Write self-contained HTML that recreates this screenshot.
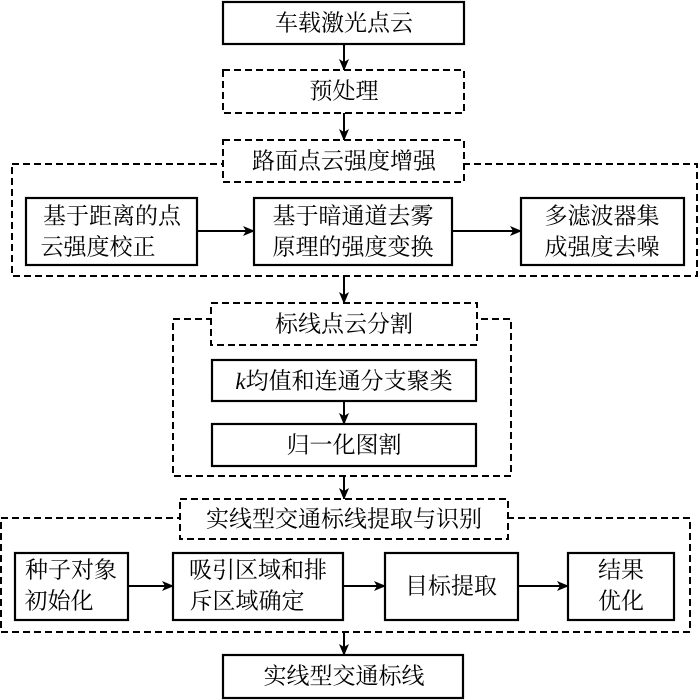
<!DOCTYPE html>
<html><head><meta charset="utf-8"><style>
html,body{margin:0;padding:0;background:#fff;}
svg{display:block}
text{font-family:"Liberation Serif","Noto Serif CJK SC",serif;font-size:23px;fill:#000;text-anchor:middle;dominant-baseline:central}
.s{fill:#fff;stroke:#000;stroke-width:2.2}
.d{fill:none;stroke:#000;stroke-width:2;stroke-dasharray:7 4}
.dw{fill:#fff;stroke:#000;stroke-width:2;stroke-dasharray:7 4}
.l{stroke:#000;stroke-width:2;fill:none}
</style></head><body>
<svg width="700" height="700" viewBox="0 0 700 700" xmlns="http://www.w3.org/2000/svg">
<defs><marker id="a" markerWidth="12" markerHeight="10" refX="11" refY="5" orient="auto" markerUnits="userSpaceOnUse"><path d="M0,0 L12,5 L0,10 L3,5 Z" fill="#000"/></marker></defs>

<!-- outer groups -->
<rect class="d" x="12" y="164" width="685" height="112"/>
<rect class="d" x="173" y="319" width="338" height="157"/>
<rect class="d" x="1" y="518" width="689" height="114"/>

<!-- top -->
<rect class="s" x="223" y="2" width="241" height="42"/>
<text x="344" y="23">车载激光点云</text>
<line class="l" x1="344" y1="44" x2="344" y2="70" marker-end="url(#a)"/>
<rect class="dw" x="223" y="70" width="241" height="43"/>
<text x="344" y="91">预处理</text>
<line class="l" x1="344" y1="113" x2="344" y2="140" marker-end="url(#a)"/>
<rect class="dw" x="223" y="140" width="241" height="42"/>
<text x="344" y="161">路面点云强度增强</text>

<rect class="s" x="26" y="198" width="171" height="67"/>
<text x="112" y="216">基于距离的点</text>
<text x="98" y="247">云强度校正</text>
<rect class="s" x="254" y="198" width="198" height="67"/>
<text x="353" y="216">基于暗通道去雾</text>
<text x="353" y="247">原理的强度变换</text>
<rect class="s" x="521" y="198" width="163" height="67"/>
<text x="602" y="216">多滤波器集</text>
<text x="602" y="247">成强度去噪</text>
<line class="l" x1="197" y1="231" x2="254" y2="231" marker-end="url(#a)"/>
<line class="l" x1="452" y1="231" x2="521" y2="231" marker-end="url(#a)"/>

<line class="l" x1="344" y1="276" x2="344" y2="303" marker-end="url(#a)"/>
<rect class="dw" x="211" y="303" width="266" height="42"/>
<text x="344" y="324">标线点云分割</text>
<rect class="s" x="212" y="360" width="264" height="41"/>
<text x="344" y="381"><tspan font-style="italic">k</tspan>均值和连通分支聚类</text>
<line class="l" x1="344" y1="401" x2="344" y2="424" marker-end="url(#a)"/>
<rect class="s" x="212" y="424" width="264" height="42"/>
<text x="344" y="445">归一化图割</text>

<line class="l" x1="344" y1="476" x2="344" y2="499" marker-end="url(#a)"/>
<rect class="dw" x="180" y="499" width="328" height="40"/>
<text x="344" y="519">实线型交通标线提取与识别</text>

<rect class="s" x="15" y="553" width="113" height="67"/>
<text x="71" y="570">种子对象</text>
<text x="59" y="601">初始化</text>
<rect class="s" x="173" y="553" width="170" height="67"/>
<text x="258" y="570">吸引区域和排</text>
<text x="247" y="601">斥区域确定</text>
<rect class="s" x="385" y="553" width="133" height="67"/>
<text x="451" y="586">目标提取</text>
<rect class="s" x="568" y="553" width="106" height="67"/>
<text x="621" y="570">结果</text>
<text x="621" y="601">优化</text>
<line class="l" x1="128" y1="586" x2="173" y2="586" marker-end="url(#a)"/>
<line class="l" x1="343" y1="586" x2="385" y2="586" marker-end="url(#a)"/>
<line class="l" x1="518" y1="586" x2="568" y2="586" marker-end="url(#a)"/>

<line class="l" x1="344" y1="632" x2="344" y2="655" marker-end="url(#a)"/>
<rect class="s" x="223" y="655" width="240" height="43"/>
<text x="344" y="676">实线型交通标线</text>
</svg>
</body></html>
